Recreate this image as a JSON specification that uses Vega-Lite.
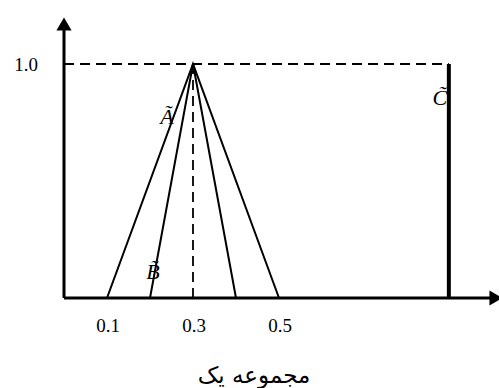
{
  "$schema": "https://vega.github.io/schema/vega-lite/v6.json",
  "width": 499,
  "height": 388,
  "autosize": "none",
  "padding": 0,
  "background": "white",
  "config": {"view": {"stroke": null}},
  "datasets": {
    "axes": [
      {"x": 0, "y": 0, "x2": 1.0, "y2": 0},
      {"x": 0, "y": 0, "x2": 0, "y2": 1.16}
    ],
    "arrows": [
      {"x": 1.0047, "y": 0, "shape": "triangle-right"},
      {"x": 0, "y": 1.171, "shape": "triangle-up"}
    ],
    "dashed": [
      {"x": 0, "y": 1, "x2": 0.895, "y2": 1},
      {"x": 0.3, "y": 0, "x2": 0.3, "y2": 1}
    ],
    "tri": [
      {"set": "A", "k": 1, "x": 0.1, "y": 0},
      {"set": "A", "k": 2, "x": 0.3, "y": 1},
      {"set": "A", "k": 3, "x": 0.5, "y": 0},
      {"set": "B", "k": 1, "x": 0.2, "y": 0},
      {"set": "B", "k": 2, "x": 0.3, "y": 1},
      {"set": "B", "k": 3, "x": 0.4, "y": 0}
    ],
    "cset": [{"x": 0.895, "y": 0, "y2": 1}],
    "names": [
      {"label": "Ã", "x": 0.2395, "y": 0.7735},
      {"label": "B̃", "x": 0.207, "y": 0.111},
      {"label": "C̃", "x": 0.874, "y": 0.855}
    ],
    "xticks": [
      {"label": "0.1", "x": 0.1, "y": 0},
      {"label": "0.3", "x": 0.3, "y": 0},
      {"label": "0.5", "x": 0.5, "y": 0}
    ],
    "yticks": [{"label": "1.0", "x": 0, "y": 1}],
    "xtitle": [{"label": "مجموعه یک", "x": 0.4419, "y": -0.333}]
  },
  "encoding": {
    "x": {"field": "x", "type": "quantitative", "scale": {"domain": [-0.14884, 1.01163], "nice": false, "zero": false}, "axis": null},
    "y": {"field": "y", "type": "quantitative", "scale": {"domain": [-0.38462, 1.2735], "nice": false, "zero": false}, "axis": null}
  },
  "layer": [
    {
      "data": {"name": "axes"},
      "mark": {"type": "rule", "color": "black", "strokeWidth": 3},
      "encoding": {"x2": {"field": "x2"}, "y2": {"field": "y2"}}
    },
    {
      "data": {"name": "arrows"},
      "mark": {"type": "point", "filled": true, "color": "black", "size": 230, "opacity": 1},
      "encoding": {"shape": {"field": "shape", "type": "nominal", "scale": null}}
    },
    {
      "data": {"name": "dashed"},
      "mark": {"type": "rule", "color": "black", "strokeWidth": 1.8, "strokeDash": [10, 6]},
      "encoding": {"x2": {"field": "x2"}, "y2": {"field": "y2"}}
    },
    {
      "data": {"name": "tri"},
      "mark": {"type": "line", "color": "black", "strokeWidth": 2},
      "encoding": {"detail": {"field": "set"}, "order": {"field": "k", "type": "quantitative"}}
    },
    {
      "data": {"name": "cset"},
      "mark": {"type": "rule", "color": "black", "strokeWidth": 4},
      "encoding": {"y2": {"field": "y2"}}
    },
    {
      "data": {"name": "names"},
      "mark": {"type": "text", "font": "Liberation Serif", "fontStyle": "italic", "fontSize": 22, "color": "black", "align": "center", "baseline": "middle"},
      "encoding": {"text": {"field": "label"}}
    },
    {
      "data": {"name": "xticks"},
      "mark": {"type": "text", "font": "Liberation Serif", "fontSize": 19, "color": "black", "align": "center", "baseline": "middle", "dy": 28, "dx": 1},
      "encoding": {"text": {"field": "label"}}
    },
    {
      "data": {"name": "yticks"},
      "mark": {"type": "text", "font": "Liberation Serif", "fontSize": 19, "color": "black", "align": "center", "baseline": "middle", "dx": -38, "dy": 1},
      "encoding": {"text": {"field": "label"}}
    },
    {
      "data": {"name": "xtitle"},
      "mark": {"type": "text", "font": "DejaVu Sans", "fontSize": 23, "color": "black", "align": "center", "baseline": "middle"},
      "encoding": {"text": {"field": "label"}}
    }
  ]
}
